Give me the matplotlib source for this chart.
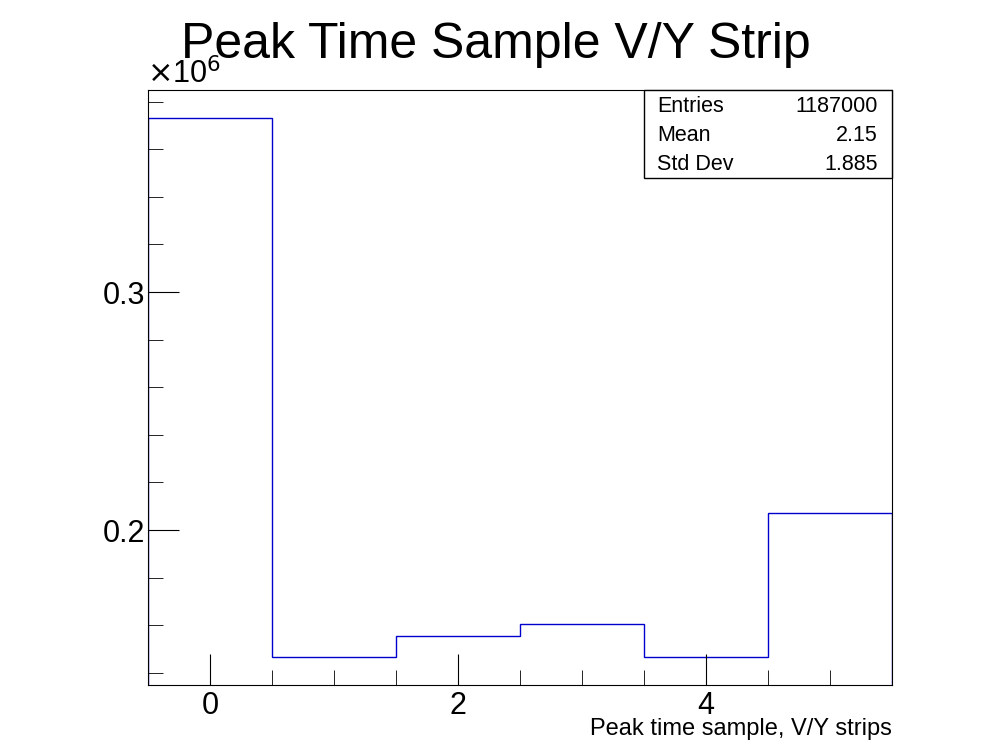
import numpy as np
import matplotlib
matplotlib.use("Agg")
import matplotlib.pyplot as plt
from matplotlib.ticker import MultipleLocator, FuncFormatter

plt.rcParams['font.family'] = ['Liberation Sans', 'DejaVu Sans']

# bin edges and counts (in units of 1e6)
bin_edges = [-0.5, 0.5, 1.5, 2.5, 3.5, 4.5, 5.5]
counts = [0.3731, 0.1466, 0.1555, 0.1605, 0.1466, 0.2071]
stat_labels = ["Entries", "Mean", "Std Dev"]
stat_values = ["1187000", "2.15", "1.885"]

fig = plt.figure(figsize=(9.92, 7.44), dpi=100)
ax = fig.add_axes([0.1492, 0.0793, 0.75, 0.7997])

ax.stairs(counts, bin_edges, color="#0000cc", linewidth=1)
ax.set_xlim(-0.5, 5.5)
ax.set_ylim(0.1349, 0.3849)

ax.xaxis.set_major_locator(MultipleLocator(2))
ax.xaxis.set_minor_locator(MultipleLocator(0.5))
ax.yaxis.set_major_locator(MultipleLocator(0.1))
ax.yaxis.set_minor_locator(MultipleLocator(0.02))
ax.yaxis.set_major_formatter(FuncFormatter(lambda v, p: f"{v:.1f}"))
ax.tick_params(which="both", direction="in", top=False, right=False, labelsize=22)
ax.tick_params(which="major", length=22)
ax.tick_params(which="minor", length=11)
ax.tick_params(axis="x", pad=4)
ax.tick_params(axis="y", pad=2)

fig.text(0.5, 0.94, "Peak Time Sample V/Y Strip", ha="center", va="center", fontsize=36)
fig.text(0.148, 0.878, r"$\times$10$^{6}$", ha="left", va="bottom", fontsize=22)
fig.text(0.899, 0.006, "Peak time sample, V/Y strips", ha="right", va="bottom", fontsize=17)

# stats box
bx0, by0, bw, bh = 644 / 992, 1 - 178 / 744, 248 / 992, 88 / 744
fig.patches.append(plt.Rectangle((bx0, by0), bw, bh, transform=fig.transFigure,
                                 fill=True, facecolor="white", edgecolor="black", lw=1))
for i, (lab, val) in enumerate(zip(stat_labels, stat_values)):
    y = 1 - (106 + 29.5 * i) / 744
    fig.text(bx0 + 13 / 992, y, lab, ha="left", va="center", fontsize=15.5)
    fig.text(bx0 + bw - 14 / 992, y, val, ha="right", va="center", fontsize=15.5)

fig.savefig("out.png", dpi=100)
